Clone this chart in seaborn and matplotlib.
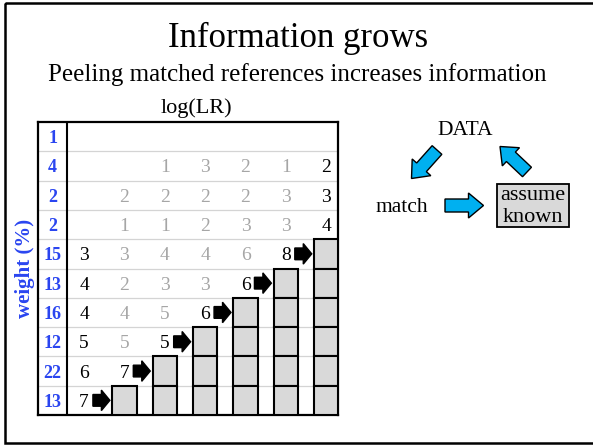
import numpy as np
import pandas as pd
import seaborn as sns
import matplotlib.pyplot as plt
from matplotlib.patches import FancyArrow, Rectangle

# Chart data
weights = [1, 4, 2, 2, 15, 13, 16, 12, 22, 13]          # weight (%) per row
loglr_rows = [
    [None, None, None, None, None, None, None],
    [None, None, 1, 3, 2, 1, 2],
    [None, 2, 2, 2, 2, 3, 3],
    [None, 1, 1, 2, 3, 3, 4],
    [3, 3, 4, 4, 6, 8, None],
    [4, 2, 3, 3, 6, None, None],
    [4, 4, 5, 6, None, None, None],
    [5, 5, 5, None, None, None, None],
    [6, 7, None, None, None, None, None],
    [7, None, None, None, None, None, None],
]
# column at which each row gets peeled (None = never)
peel_col = [None, None, None, None, 5, 4, 3, 2, 1, 0]
n_cols = 7

title = "Information grows"
subtitle = "Peeling matched references increases information"

BLACK = "black"
GREY = "#a6a6a6"
BOX = "#d9d9d9"
BLUE = "#2a45f0"
CYAN = "#00b0f0"

sns.set_theme(style="white")
plt.rcParams["font.family"] = ["Liberation Serif", "DejaVu Serif"]
plt.rcParams["text.color"] = BLACK

W, H = 593, 445
fig = plt.figure(figsize=(W / 100, H / 100), dpi=100)

# overlay axes in pixel units for the slide furniture
dax = fig.add_axes([0, 0, 1, 1])
dax.set_xlim(0, W)
dax.set_ylim(H, 0)
dax.axis("off")
dax.add_patch(Rectangle((4.5, 3), 620, 440, fill=False, lw=1.8, ec=BLACK, clip_on=False))
dax.text(298, 47, title, fontsize=25, ha="center", va="baseline")
dax.text(297.5, 81.5, subtitle, fontsize=18, ha="center", va="baseline")
dax.text(196, 113, "log(LR)", fontsize=16, ha="center", va="baseline")
dax.text(25, 268, "weight (%)", rotation=90, fontsize=15, fontweight="bold",
         color=BLUE, ha="center", va="center")

# cycle diagram: DATA -> match -> assume known -> DATA
dax.text(465.5, 135, "DATA", fontsize=15.5, ha="center", va="baseline")
dax.text(401.5, 211.5, "match", fontsize=15.5, ha="center", va="baseline")
dax.add_patch(Rectangle((496.5, 184), 72.5, 43, fc=BOX, ec=BLACK, lw=1.3))
dax.text(532.5, 200, "assume", fontsize=16, ha="center", va="baseline")
dax.text(532.5, 221.5, "known", fontsize=16, ha="center", va="baseline")
for x0, y0, x1, y1 in [(437, 150, 411.5, 178.5), (445, 205.5, 483.5, 205.5),
                       (527, 172, 500, 146.5)]:
    dax.add_patch(FancyArrow(x0, y0, x1 - x0, y1 - y0, width=13, head_width=25,
                             head_length=15, length_includes_head=True,
                             fc=CYAN, ec=BLACK, lw=1))

# the table
ax = fig.add_axes([38 / W, 1 - 415 / H, 300 / W, 293 / H])
x_left, x_sep, x_right = -1.14, -0.42, 6.29
ax.set_xlim(x_left, x_right)
ax.set_ylim(len(weights), 0)
ax.set_xticks([])
ax.set_yticks([])
for s in ax.spines.values():
    s.set_visible(True)
    s.set_color(BLACK)
    s.set_linewidth(1.6)
ax.hlines(np.arange(1, len(weights)), x_left, x_right, color="#d4d4d4", lw=0.9)
ax.axvline(x_sep, color=BLACK, lw=1.5)

for r, w in enumerate(weights):
    ax.text((x_left + x_sep) / 2, r + 0.5, str(w), ha="center", va="center_baseline",
            fontsize=13, fontweight="bold", color=BLUE)

for r, row in enumerate(loglr_rows):
    p = peel_col[r]
    for c, v in enumerate(row):
        if v is None:
            continue
        dark = c == 0 or c == n_cols - 1 or c == p
        ax.text(c, r + 0.5, str(v), ha="center", va="center_baseline",
                fontsize=14, color=BLACK if dark else GREY)

# peeled rows: arrow then grey boxes in the remaining columns
for r, p in enumerate(peel_col):
    if p is None:
        continue
    cols = np.arange(p + 1, n_cols)
    ax.bar(cols, 1, bottom=r, width=0.6, color=BOX, edgecolor=BLACK, lw=1.5, zorder=3)
    ax.add_patch(FancyArrow(p + 0.22, r + 0.5, 0.42, 0, width=0.4, head_width=0.7,
                            head_length=0.21, length_includes_head=True,
                            color=BLACK, zorder=3))

fig.savefig("out.png", dpi=100)
